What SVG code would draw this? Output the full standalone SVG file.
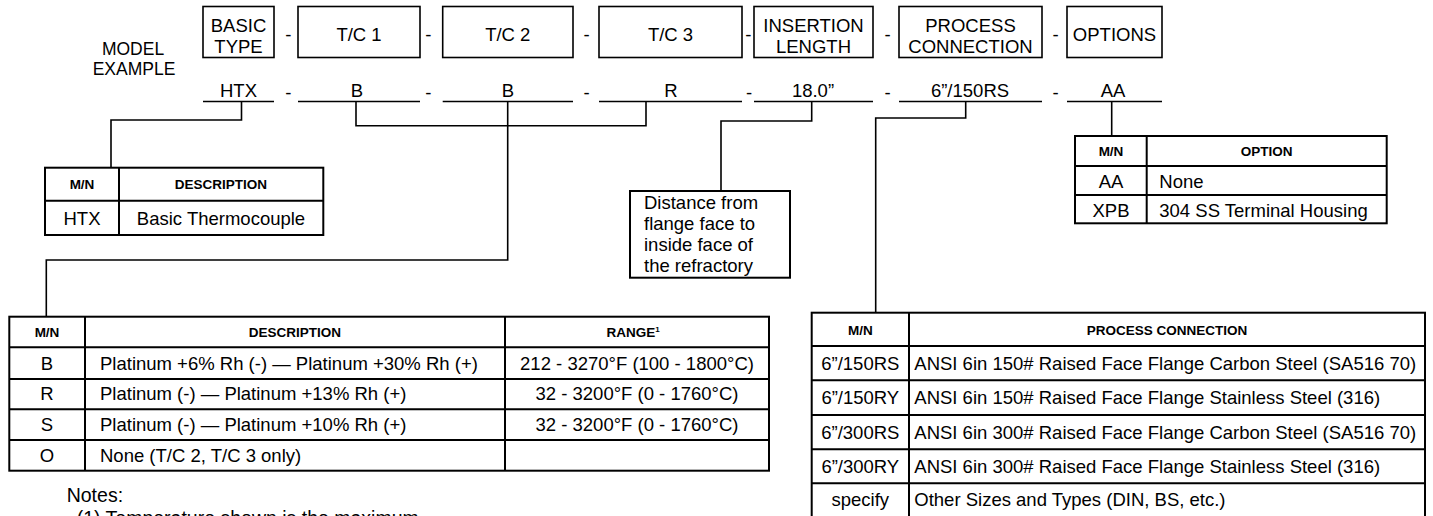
<svg xmlns="http://www.w3.org/2000/svg" width="1433" height="516" viewBox="0 0 1433 516">
<style>
.t{font-family:"Liberation Sans",Arial,sans-serif;font-size:18.5px;fill:#000}
.h{font-family:"Liberation Sans",Arial,sans-serif;font-size:13.5px;font-weight:bold;fill:#000}
.sup{font-family:"Liberation Sans",Arial,sans-serif;font-size:8px;font-weight:bold;fill:#000}
.m{text-anchor:middle}
.box{fill:#fff;stroke:#000;stroke-width:1.6}
.tbl{fill:none;stroke:#000;stroke-width:2}
.ln{fill:none;stroke:#000;stroke-width:1.6}
</style>
<rect width="1433" height="516" fill="#fff"/>

<g id="model-label">
<text class="t m" x="133" y="55" style="font-size:17.5px">MODEL</text>
<text class="t m" x="134" y="75" style="font-size:17.5px">EXAMPLE</text>
</g>

<g id="hdr-basic"><rect class="box" x="203" y="6.5" width="71" height="51"/><text class="t m" x="238.5" y="31.5">BASIC</text><text class="t m" x="238.5" y="52.5">TYPE</text></g>
<g id="hdr-tc1"><rect class="box" x="298" y="6.5" width="122" height="51"/><text class="t m" x="359" y="41">T/C 1</text></g>
<g id="hdr-tc2"><rect class="box" x="442.7" y="6.5" width="130.3" height="51"/><text class="t m" x="507.8" y="41">T/C 2</text></g>
<g id="hdr-tc3"><rect class="box" x="599" y="6.5" width="143" height="51"/><text class="t m" x="670.5" y="41">T/C 3</text></g>
<g id="hdr-insertion"><rect class="box" x="754" y="6.5" width="119" height="51"/><text class="t m" x="813.5" y="31.5">INSERTION</text><text class="t m" x="813.5" y="52.5">LENGTH</text></g>
<g id="hdr-process"><rect class="box" x="899" y="6.5" width="143" height="51"/><text class="t m" x="970.5" y="31.5">PROCESS</text><text class="t m" x="970.5" y="52.5">CONNECTION</text></g>
<g id="hdr-options"><rect class="box" x="1067" y="6.5" width="95" height="51"/><text class="t m" x="1114.5" y="41">OPTIONS</text></g>

<g id="hdr-dashes">
<text class="t m" x="288.3" y="41">-</text>
<text class="t m" x="428.3" y="41">-</text>
<text class="t m" x="586.7" y="41">-</text>
<text class="t m" x="748.3" y="41">-</text>
<text class="t m" x="887.7" y="41">-</text>
<text class="t m" x="1055.7" y="41">-</text>
</g>

<g id="example-values">
<text class="t m" x="238.5" y="97">HTX</text>
<text class="t m" x="357" y="97">B</text>
<text class="t m" x="507.8" y="97">B</text>
<text class="t m" x="671" y="97">R</text>
<text class="t m" x="813" y="97">18.0”</text>
<text class="t m" x="970" y="97">6”/150RS</text>
<text class="t m" x="1113" y="97">AA</text>
<text class="t m" x="288.3" y="99">-</text>
<text class="t m" x="428.3" y="99">-</text>
<text class="t m" x="586.7" y="99">-</text>
<text class="t m" x="749" y="99">-</text>
<text class="t m" x="887.7" y="99">-</text>
<text class="t m" x="1055.7" y="99">-</text>
</g>

<g id="connectors">
<path class="ln" d="M203 101.5H274M298 101.5H420M442.7 101.5H573M599 101.5H742M754 101.5H873M899 101.5H1042M1067 101.5H1162"/>
<path class="ln" d="M241.5 101.5V120H111V167.7"/>
<path class="ln" d="M356 101.5V125.7H646V101.5"/>
<path class="ln" d="M507.7 101.5V260H46.3V316.7"/>
<path class="ln" d="M811.7 101.5V121H721V191"/>
<path class="ln" d="M965.7 101.5V118H875.7V312.7"/>
<path class="ln" d="M1111.7 101.5V136"/>
</g>

<g id="table-basic">
<rect class="tbl" x="45" y="167.7" width="278.3" height="67.3"/>
<path class="tbl" d="M119 167.7V235M45 200.7H323.3"/>
<text class="h m" x="82" y="189.3">M/N</text>
<text class="h m" x="221" y="189.3">DESCRIPTION</text>
<text class="t m" x="82" y="225">HTX</text>
<text class="t m" x="221" y="225">Basic Thermocouple</text>
</g>

<g id="note-insertion">
<rect class="tbl" x="630" y="191" width="160" height="86.7"/>
<text class="t" x="644" y="209.3">Distance from</text>
<text class="t" x="644" y="230.1">flange face to</text>
<text class="t" x="644" y="250.9">inside face of</text>
<text class="t" x="644" y="271.7">the refractory</text>
</g>

<g id="table-options">
<rect class="tbl" x="1075" y="136" width="311.7" height="87.3"/>
<path class="tbl" d="M1146.7 136V223.3M1075 166H1386.7M1075 195H1386.7"/>
<text class="h m" x="1111" y="156">M/N</text>
<text class="h m" x="1266.7" y="156">OPTION</text>
<text class="t m" x="1111" y="187.5">AA</text>
<text class="t" x="1159.3" y="187.5">None</text>
<text class="t m" x="1111" y="216.5">XPB</text>
<text class="t" x="1159.3" y="216.5">304 SS Terminal Housing</text>
</g>

<g id="table-tc">
<rect class="tbl" x="9.3" y="316.7" width="759.7" height="154"/>
<path class="tbl" d="M85 316.7V470.7M505 316.7V470.7M9.3 347.3H769M9.3 379H769M9.3 409.3H769M9.3 440H769"/>
<text class="h m" x="47" y="336.5">M/N</text>
<text class="h m" x="295" y="336.5">DESCRIPTION</text>
<text class="h m" x="633" y="336.5">RANGE<tspan class="sup" dy="-5">1</tspan></text>
<text class="t m" x="47" y="369.5">B</text>
<text class="t" x="100" y="369.5">Platinum +6% Rh (-) — Platinum +30% Rh (+)</text>
<text class="t m" x="637" y="369.5">212 - 3270°F (100 - 1800°C)</text>
<text class="t m" x="47" y="400.3">R</text>
<text class="t" x="100" y="400.3">Platinum (-) — Platinum +13% Rh (+)</text>
<text class="t m" x="637" y="400.3">32 - 3200°F (0 - 1760°C)</text>
<text class="t m" x="47" y="431">S</text>
<text class="t" x="100" y="431">Platinum (-) — Platinum +10% Rh (+)</text>
<text class="t m" x="637" y="431">32 - 3200°F (0 - 1760°C)</text>
<text class="t m" x="47" y="461.5">O</text>
<text class="t" x="100" y="461.5">None (T/C 2, T/C 3 only)</text>
</g>

<g id="notes">
<text class="t" x="66.7" y="501.7" style="font-size:19.5px">Notes:</text>
<text class="t" x="76.7" y="525" style="font-size:19.5px">(1)  Temperature shown is the maximum</text>
</g>

<g id="table-process">
<rect class="tbl" x="811.7" y="312.7" width="613.3" height="206"/>
<path class="tbl" d="M909 312.7V518.7M811.7 346H1425M811.7 380.3H1425M811.7 415H1425M811.7 449.3H1425M811.7 483.3H1425"/>
<text class="h m" x="860.3" y="334.5">M/N</text>
<text class="h m" x="1167" y="334.5">PROCESS CONNECTION</text>
<text class="t m" x="860.3" y="370">6”/150RS</text>
<text class="t" x="914.3" y="370">ANSI 6in 150# Raised Face Flange Carbon Steel (SA516 70)</text>
<text class="t m" x="860.3" y="404.3">6”/150RY</text>
<text class="t" x="914.3" y="404.3">ANSI 6in 150# Raised Face Flange Stainless Steel (316)</text>
<text class="t m" x="860.3" y="438.8">6”/300RS</text>
<text class="t" x="914.3" y="438.8">ANSI 6in 300# Raised Face Flange Carbon Steel (SA516 70)</text>
<text class="t m" x="860.3" y="472.8">6”/300RY</text>
<text class="t" x="914.3" y="472.8">ANSI 6in 300# Raised Face Flange Stainless Steel (316)</text>
<text class="t m" x="860.3" y="505.5">specify</text>
<text class="t" x="914.3" y="505.5">Other Sizes and Types (DIN, BS, etc.)</text>
</g>
</svg>
